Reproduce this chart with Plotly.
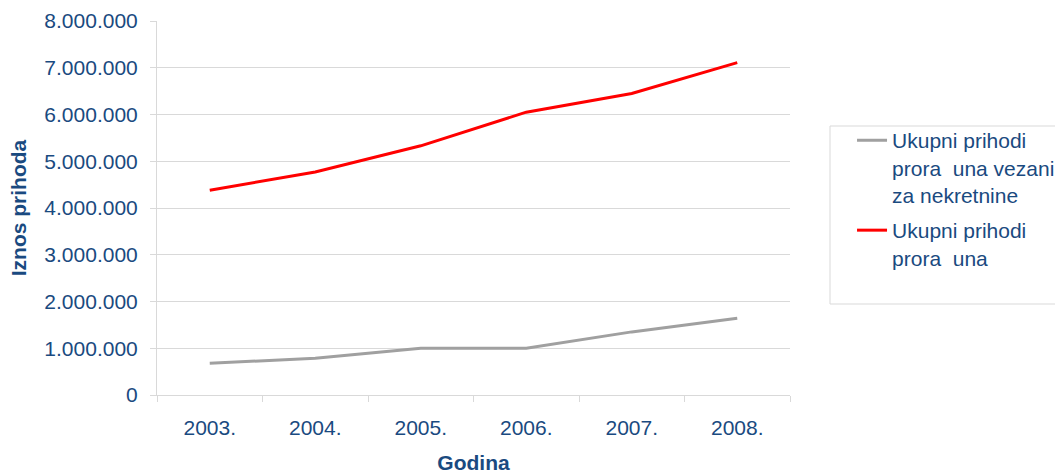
import plotly.graph_objects as go

years = ["2003.", "2004.", "2005.", "2006.", "2007.", "2008."]
prihodi_nekretnine = [680000, 785000, 1000000, 1000000, 1350000, 1640000]
prihodi_ukupno = [4380000, 4770000, 5330000, 6050000, 6450000, 7110000]
y_ticks = [0, 1000000, 2000000, 3000000, 4000000, 5000000, 6000000, 7000000, 8000000]

name_nekretnine = "Ukupni prihodi<br>prora\u00a0\u00a0una vezani<br>za nekretnine"
name_ukupno = "Ukupni prihodi<br>prora\u00a0\u00a0una"

TEXT = "#1A4A80"
GRID = "#D9D9D9"
FONT = "Liberation Sans, Arial, sans-serif"

fig = go.Figure()
fig.add_trace(go.Scatter(x=years, y=prihodi_nekretnine, mode="lines", name=name_nekretnine,
                         legendgroup="nekretnine", line=dict(color="#A0A0A0", width=3)))
fig.add_trace(go.Scatter(x=years, y=prihodi_ukupno, mode="lines", name=name_ukupno,
                         legendgroup="ukupno", line=dict(color="#FF0000", width=3)))

fig.update_layout(
    width=1055, height=475,
    margin=dict(l=157, r=265, t=21, b=80, autoexpand=False),
    paper_bgcolor="white", plot_bgcolor="white",
    separators=",.",
    font=dict(family=FONT, size=21, color=TEXT),
    showlegend=True,
    legend=dict(x=1.098, y=0.735, xanchor="left", yanchor="top",
                bgcolor="rgba(0,0,0,0)", borderwidth=0, valign="top",
                font=dict(family=FONT, size=21, color=TEXT), tracegroupgap=5),
    xaxis=dict(type="category", range=[-0.5, 5.5], showgrid=False, showline=True,
               linecolor=GRID, linewidth=1,
               ticks="outside", tickson="boundaries", ticklen=6, tickcolor=GRID,
               ticklabelstandoff=14,
               title=dict(text="<b>Godina</b>", standoff=17, font=dict(size=21, color=TEXT))),
    yaxis=dict(range=[0, 8000000], tickvals=y_ticks, tickformat=",d",
               showgrid=True, gridcolor=GRID, gridwidth=1, zeroline=False,
               showline=True, linecolor=GRID, linewidth=1,
               ticks="outside", ticklen=6, tickcolor=GRID, ticklabelstandoff=8,
               title=dict(text="<b>Iznos prihoda</b>", standoff=12, font=dict(size=21, color=TEXT))),
    shapes=[dict(type="rect", xref="paper", yref="paper",
                 x0=(830 - 157) / 633, x1=1.5, y0=(395 - 304) / 374, y1=(395 - 126) / 374,
                 line=dict(color=GRID, width=1), fillcolor="rgba(0,0,0,0)", layer="below")],
)

fig.write_html("out.html")
